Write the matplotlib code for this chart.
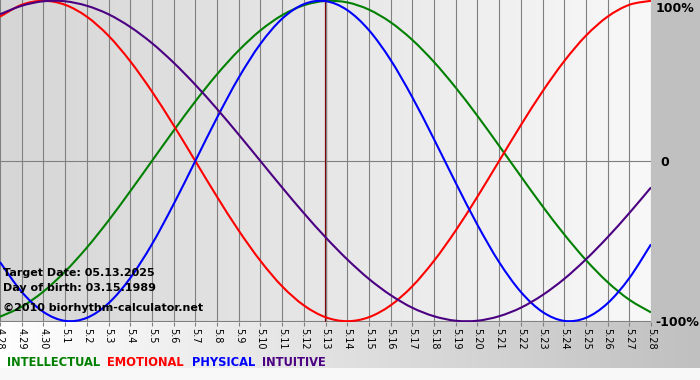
import matplotlib
matplotlib.use("Agg")
import matplotlib.pyplot as plt
from matplotlib.path import Path
from matplotlib.patches import PathPatch
import numpy as np

# ---------------- data ----------------
days = ["4.28", "4.29", "4.30", "5.1", "5.2", "5.3", "5.4", "5.5", "5.6", "5.7",
        "5.8", "5.9", "5.10", "5.11", "5.12", "5.13", "5.14", "5.15", "5.16", "5.17",
        "5.18", "5.19", "5.20", "5.21", "5.22", "5.23", "5.24", "5.25", "5.26", "5.27", "5.28"]

intellectual = [-0.972, -0.910, -0.815, -0.690, -0.541, -0.372, -0.189, 0.000, 0.189, 0.372,
                0.541, 0.690, 0.815, 0.910, 0.972, 0.999, 0.990, 0.945, 0.866, 0.756,
                0.618, 0.458, 0.282, 0.095, -0.095, -0.282, -0.458, -0.618, -0.756, -0.866, -0.945]
emotional = [0.901, 0.975, 1.000, 0.975, 0.901, 0.782, 0.623, 0.434, 0.223, 0.000,
             -0.223, -0.434, -0.623, -0.782, -0.901, -0.975, -1.000, -0.975, -0.901, -0.782,
             -0.623, -0.434, -0.223, 0.000, 0.223, 0.434, 0.623, 0.782, 0.901, 0.975, 1.000]
physical = [-0.631, -0.817, -0.942, -0.998, -0.979, -0.888, -0.731, -0.520, -0.270, 0.000,
            0.270, 0.520, 0.731, 0.888, 0.979, 0.998, 0.942, 0.817, 0.631, 0.398,
            0.136, -0.136, -0.398, -0.631, -0.817, -0.942, -0.998, -0.979, -0.888, -0.731, -0.520]
intuitive = [0.916, 0.969, 0.997, 0.997, 0.969, 0.916, 0.837, 0.736, 0.614, 0.476,
             0.325, 0.165, 0.000, -0.165, -0.325, -0.476, -0.614, -0.736, -0.837, -0.916,
             -0.969, -0.997, -0.997, -0.969, -0.916, -0.837, -0.736, -0.614, -0.476, -0.325, -0.165]

target_day = "5.13"
series_names = ["INTELLECTUAL", "EMOTIONAL", "PHYSICAL", "INTUITIVE"]
series_colors = ["#008000", "#ff0000", "#0000ff", "#4b0082"]
right_labels = ["100%", "0", "-100%"]
info_lines = ["Target Date: 05.13.2025", "Day of birth: 03.15.1989",
              "\u00a92010 biorhythm-calculator.net"]

# ---------------- figure ----------------
W, H = 700, 380
fig = plt.figure(figsize=(W / 100, H / 100), dpi=100)
fig.patch.set_facecolor("#c0c0c0")

# background layer in pixel coordinates
bg = fig.add_axes([0, 0, 1, 1], zorder=-5)
bg.patch.set_alpha(0)
band = np.linspace(255, 192, 256)[None, :] / 255.0
band_rgb = np.dstack([band, band, band])
bg.imshow(band_rgb, extent=(0, W, 368, 321), aspect="auto", interpolation="bilinear", zorder=0)
bg.add_patch(plt.Rectangle((0, 368), W, H - 368, color="#f8f8f8", lw=0, zorder=1))
bg.set_xlim(0, W)
bg.set_ylim(H, 0)
bg.axis("off")

# main plot
plot_w = 651
plot_top, plot_bot = 0, 322
ax = fig.add_axes([0, 1 - plot_bot / H, plot_w / W, (plot_bot - plot_top) / H])
x = np.arange(len(days))
ax.set_xlim(0, len(days) - 1)
ax.set_ylim(-1.005, 1.005)

grad = np.linspace(0xd6, 0xf8, 256)[None, :] / 255.0
grad_rgb = np.dstack([grad, grad, grad])
ax.imshow(grad_rgb, extent=(0, len(days) - 1, -1.005, 1.005), aspect="auto",
          interpolation="bilinear", zorder=0)

for s in ax.spines.values():
    s.set_visible(False)

ax.set_xticks(x)
ax.set_xticklabels(days)
ax.tick_params(axis="x", length=3, color="#808080", width=0.8, pad=1,
               labelsize=7, labelrotation=270, labelcolor="black")
ax.set_yticks([])
ax.grid(axis="x", color="#808080", lw=0.8, zorder=1)
ax.axhline(0, color="#808080", lw=0.8, zorder=1)
ax.axhline(-1.0, color="#808080", lw=0.8, zorder=1)
ax.set_axisbelow(False)

ax.axvline(days.index(target_day), color="#800000", lw=1.6, zorder=2)


def smooth_path(xs, ys):
    """Catmull-Rom curve through the data points, as cubic Bezier segments."""
    xs = np.asarray(xs, float)
    ys = np.asarray(ys, float)
    n = len(xs)
    verts = [(xs[0], ys[0])]
    codes = [Path.MOVETO]
    for i in range(n - 1):
        i0 = max(i - 1, 0)
        i3 = min(i + 2, n - 1)
        c1 = (xs[i] + (xs[i + 1] - xs[i0]) / 6.0, ys[i] + (ys[i + 1] - ys[i0]) / 6.0)
        c2 = (xs[i + 1] - (xs[i3] - xs[i]) / 6.0, ys[i + 1] - (ys[i3] - ys[i]) / 6.0)
        verts += [c1, c2, (xs[i + 1], ys[i + 1])]
        codes += [Path.CURVE4, Path.CURVE4, Path.CURVE4]
    return Path(verts, codes)


for vals, col in zip([intellectual, emotional, physical, intuitive], series_colors):
    ax.add_patch(PathPatch(smooth_path(x, vals), facecolor="none", edgecolor=col,
                           lw=1.5, zorder=3))

# right side labels
for lab, ypix, xp in zip(right_labels, [8, 162, 322], [656, 660, 655]):
    fig.text(xp / W, 1 - ypix / H, lab, fontsize=9,
             fontweight="bold", ha="left", va="center", color="black")

# info text
for txt, base in zip(info_lines, [276.5, 290.7, 311]):
    fig.text(3 / W, 1 - base / H, txt, fontsize=8, fontweight="bold",
             ha="left", va="baseline", color="black")

# legend words
for name, col, xp in zip(series_names, series_colors, [7.5, 107, 192, 262]):
    fig.text(xp / W, 1 - 365.5 / H, name, fontsize=8.3, fontweight="bold",
             ha="left", va="baseline", color=col)

fig.savefig("out.png", dpi=100)
